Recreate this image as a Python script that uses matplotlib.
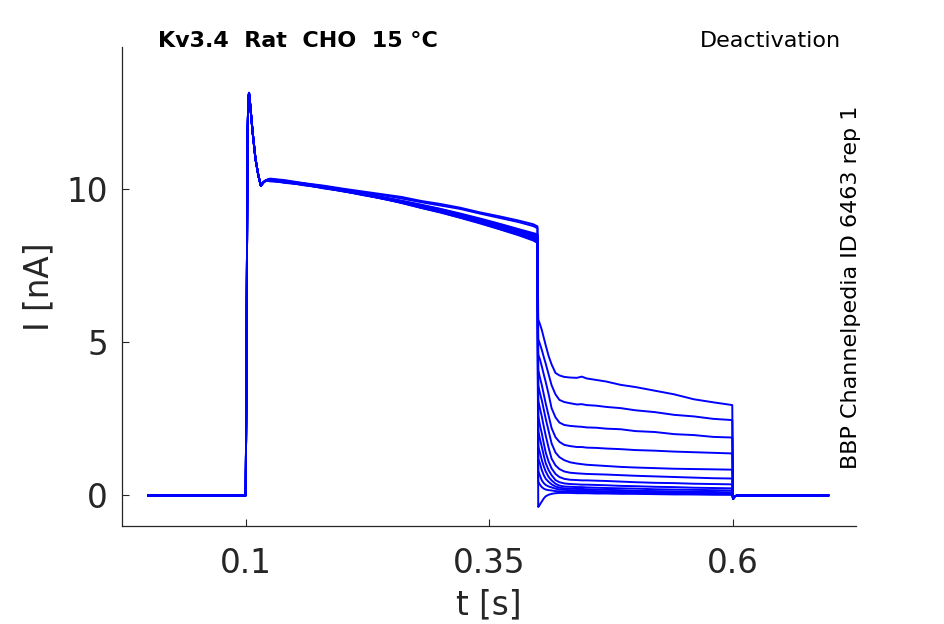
import matplotlib
matplotlib.use("Agg")
import matplotlib.pyplot as plt
import numpy as np

plt.rcParams["font.family"] = ["DejaVu Sans"]

# 激活阶段（所有曲线共用）
t_on = [0.0, 0.05, 0.1, 0.1008, 0.1018, 0.1026, 0.1034, 0.1045, 0.107, 0.110,
        0.113, 0.1155, 0.118, 0.121]
i_on = [0.0, 0.0, 0.0, 4.0, 11.5, 12.9, 13.15, 12.8, 11.9, 11.0,
        10.45, 10.12, 10.22, 10.3]

# 平台阶段
t_plat = [0.125, 0.14, 0.16, 0.18, 0.20, 0.22, 0.24, 0.26, 0.28, 0.30,
          0.32, 0.34, 0.36, 0.38, 0.395, 0.3995]
plat_vals = [
    [10.35, 10.30, 10.20, 10.12, 10.02, 9.93, 9.84, 9.75, 9.62, 9.52, 9.40, 9.25, 9.12, 8.98, 8.86, 8.79],
    [10.32, 10.27, 10.19, 10.10, 10.00, 9.90, 9.81, 9.70, 9.58, 9.47, 9.36, 9.21, 9.07, 8.93, 8.80, 8.73],
    [10.33, 10.25, 10.18, 10.08, 9.98, 9.87, 9.75, 9.63, 9.50, 9.36, 9.21, 9.05, 8.88, 8.70, 8.57, 8.53],
    [10.30, 10.28, 10.17, 10.09, 9.96, 9.86, 9.74, 9.61, 9.48, 9.35, 9.19, 9.03, 8.86, 8.68, 8.54, 8.50],
    [10.34, 10.26, 10.19, 10.07, 9.97, 9.85, 9.73, 9.60, 9.47, 9.33, 9.18, 9.01, 8.84, 8.66, 8.52, 8.47],
    [10.29, 10.27, 10.16, 10.08, 9.96, 9.86, 9.72, 9.60, 9.46, 9.32, 9.16, 9.00, 8.82, 8.64, 8.49, 8.44],
    [10.31, 10.24, 10.18, 10.06, 9.97, 9.84, 9.73, 9.58, 9.45, 9.31, 9.15, 8.98, 8.80, 8.62, 8.47, 8.42],
    [10.28, 10.26, 10.15, 10.07, 9.95, 9.85, 9.71, 9.59, 9.44, 9.29, 9.14, 8.97, 8.79, 8.60, 8.45, 8.39],
    [10.32, 10.23, 10.17, 10.05, 9.96, 9.83, 9.72, 9.57, 9.43, 9.28, 9.12, 8.95, 8.77, 8.58, 8.42, 8.37],
    [10.27, 10.25, 10.14, 10.06, 9.94, 9.84, 9.70, 9.58, 9.42, 9.27, 9.11, 8.94, 8.75, 8.56, 8.40, 8.34],
    [10.30, 10.22, 10.16, 10.04, 9.95, 9.82, 9.71, 9.56, 9.41, 9.26, 9.10, 8.92, 8.73, 8.54, 8.38, 8.31],
    [10.26, 10.24, 10.13, 10.05, 9.93, 9.83, 9.69, 9.57, 9.40, 9.25, 9.08, 8.91, 8.71, 8.52, 8.35, 8.28],
    [10.29, 10.21, 10.15, 10.03, 9.94, 9.81, 9.70, 9.55, 9.39, 9.24, 9.07, 8.89, 8.70, 8.50, 8.33, 8.25],
]

# 去活化尾电流
t_tail = [0.4003, 0.402, 0.404, 0.406, 0.408, 0.411, 0.414, 0.418, 0.422, 0.427,
          0.433, 0.44, 0.445, 0.45, 0.46, 0.47, 0.485, 0.50, 0.52, 0.54, 0.56, 0.58, 0.5995]
tail_vals = [
    [5.75, 5.60, 5.40, 5.15, 4.90, 4.55, 4.28, 4.00, 3.92, 3.87, 3.85, 3.84, 3.88, 3.82, 3.77, 3.72, 3.61, 3.54, 3.42, 3.30, 3.14, 3.04, 2.95],
    [5.10, 4.95, 4.75, 4.52, 4.30, 3.95, 3.60, 3.30, 3.12, 3.05, 3.01, 2.97, 2.98, 2.95, 2.93, 2.89, 2.85, 2.78, 2.72, 2.63, 2.58, 2.50, 2.46],
    [4.60, 4.45, 4.21, 3.95, 3.70, 3.30, 2.85, 2.55, 2.38, 2.30, 2.27, 2.25, 2.24, 2.22, 2.21, 2.18, 2.16, 2.10, 2.07, 2.00, 1.97, 1.91, 1.89],
    [4.10, 3.85, 3.60, 3.30, 3.00, 2.60, 2.20, 1.90, 1.75, 1.65, 1.61, 1.58, 1.58, 1.56, 1.55, 1.53, 1.51, 1.48, 1.46, 1.43, 1.41, 1.39, 1.37],
    [3.60, 3.35, 3.10, 2.80, 2.50, 2.10, 1.70, 1.40, 1.25, 1.15, 1.08, 1.04, 1.02, 1.00, 0.98, 0.96, 0.93, 0.91, 0.89, 0.87, 0.86, 0.85, 0.84],
    [3.10, 2.85, 2.57, 2.25, 1.95, 1.55, 1.20, 0.98, 0.86, 0.78, 0.74, 0.72, 0.71, 0.70, 0.69, 0.68, 0.66, 0.64, 0.62, 0.60, 0.58, 0.56, 0.55],
    [2.60, 2.30, 2.02, 1.70, 1.40, 1.10, 0.88, 0.70, 0.60, 0.54, 0.51, 0.50, 0.49, 0.49, 0.48, 0.47, 0.45, 0.43, 0.41, 0.40, 0.38, 0.37, 0.36],
    [2.10, 1.85, 1.58, 1.30, 1.05, 0.82, 0.66, 0.50, 0.43, 0.39, 0.37, 0.36, 0.35, 0.35, 0.34, 0.33, 0.31, 0.30, 0.28, 0.27, 0.25, 0.24, 0.23],
    [1.60, 1.40, 1.15, 0.95, 0.78, 0.60, 0.49, 0.38, 0.32, 0.29, 0.28, 0.27, 0.27, 0.26, 0.25, 0.24, 0.23, 0.22, 0.20, 0.19, 0.18, 0.17, 0.16],
    [1.20, 1.05, 0.82, 0.66, 0.54, 0.44, 0.36, 0.29, 0.25, 0.23, 0.22, 0.21, 0.21, 0.20, 0.19, 0.18, 0.17, 0.15, 0.14, 0.13, 0.12, 0.11, 0.10],
    [0.80, 0.65, 0.49, 0.40, 0.34, 0.29, 0.26, 0.22, 0.19, 0.18, 0.17, 0.16, 0.16, 0.15, 0.14, 0.13, 0.12, 0.11, 0.10, 0.09, 0.08, 0.07, 0.06],
    [0.45, 0.35, 0.27, 0.22, 0.19, 0.17, 0.16, 0.14, 0.13, 0.12, 0.12, 0.11, 0.11, 0.11, 0.10, 0.09, 0.08, 0.07, 0.06, 0.05, 0.04, 0.04, 0.03],
    [-0.38, -0.30, -0.20, -0.10, -0.03, 0.02, 0.05, 0.07, 0.08, 0.08, 0.08, 0.07, 0.07, 0.07, 0.06, 0.06, 0.05, 0.05, 0.04, 0.03, 0.03, 0.02, 0.02],
]

# 复极化后回到基线
t_off = [0.6003, 0.602, 0.605, 0.62, 0.65, 0.68, 0.698]
i_off = [-0.12, -0.03, 0.0, 0.0, 0.0, 0.0, 0.0]

fig = plt.figure(figsize=(9.45, 6.24), dpi=100)
ax = fig.add_axes([0.1291, 0.1571, 0.7767, 0.7676])

for plat, tail in zip(plat_vals, tail_vals):
    t = np.concatenate([t_on, t_plat, t_tail, t_off])
    i = np.concatenate([i_on, plat, tail, i_off])
    ax.plot(t, i, color="#0000ff", linewidth=1.4)

ax.set_xlim(-0.027, 0.7265)
ax.set_ylim(-1.0, 14.65)
ax.set_xticks([0.1, 0.35, 0.6])
ax.set_xticklabels(["0.1", "0.35", "0.6"])
ax.set_yticks([0, 5, 10])

for side in ["top", "right"]:
    ax.spines[side].set_visible(False)
for side in ["left", "bottom"]:
    ax.spines[side].set_color("#262626")
    ax.spines[side].set_linewidth(0.9)

ax.tick_params(axis="both", direction="in", length=5, width=0.8,
               colors="#262626", labelsize=23.5)
ax.tick_params(axis="x", pad=15)
ax.tick_params(axis="y", pad=10)

ax.set_xlabel("t [s]", fontsize=23.5, color="#262626", labelpad=6)
ax.set_ylabel("I [nA]", fontsize=23.5, color="#262626", labelpad=8)

fig.text(0.1672, 0.9242, "Kv3.4  Rat  CHO  15 °C", fontsize=16,
         fontweight="bold", ha="left", va="baseline", color="black")
fig.text(0.8900, 0.9252, "Deactivation", fontsize=16,
         ha="right", va="baseline", color="black")
fig.text(0.9005, 0.5393, "BBP Channelpedia ID 6463 rep 1", fontsize=16,
         rotation=90, ha="center", va="center", color="black")

fig.savefig("out.png", dpi=100)
plt.close(fig)
